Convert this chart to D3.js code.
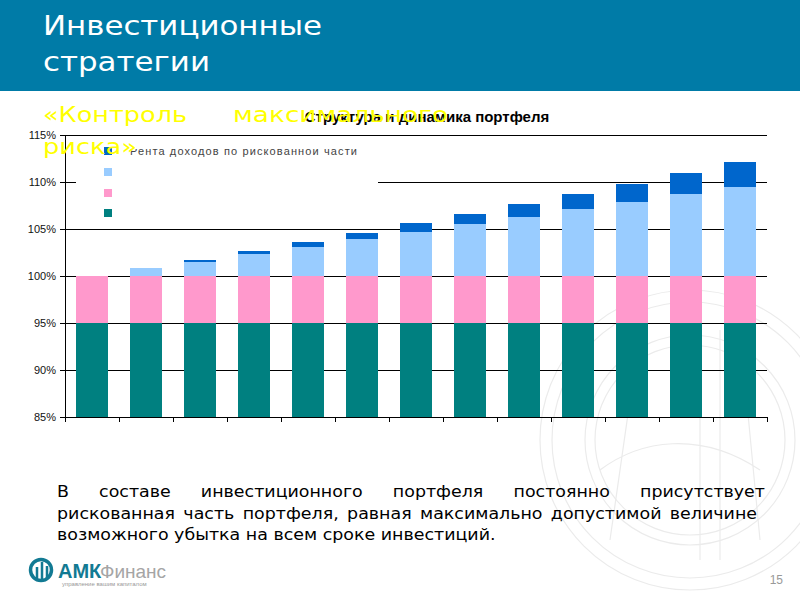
<!DOCTYPE html>
<html><head><meta charset="utf-8">
<script src="https://cdn.jsdelivr.net/npm/d3@7"></script>
<style>html,body{margin:0;padding:0;background:#fff;}svg{display:block;}</style>
</head><body>
<svg id="c" width="800" height="600"></svg>
<script>
// ---- data ----
const periods = [1,2,3,4,5,6,7,8,9,10,11,12,13];
const seriesNames = ["Безрисковая часть","Рискованная часть","Доход по рискованной части","Рента доходов по рискованной части"];
const riskFree = [95,95,95,95,95,95,95,95,95,95,95,95,95];
const riskPart = [5,5,5,5,5,5,5,5,5,5,5,5,5];
const riskIncome = [0,0.85,1.5,2.35,3.1,3.95,4.7,5.5,6.3,7.1,7.9,8.7,9.5];
const rentIncome = [0,0,0.2,0.3,0.5,0.65,0.95,1.1,1.4,1.6,1.9,2.25,2.65];
const yTicks = [85,90,95,100,105,110,115];
const legendLabels = ["Рента доходов по рискованной части","","",""];
const colors = ["#008080","#ff99cc","#99ccff","#0066cc"];
const titleLines = ["Инвестиционные","стратегии"];
const bodyLines = ["В составе инвестиционного портфеля постоянно присутствует",
  "рискованная часть портфеля, равная максимально допустимой величине",
  "возможного убытка на всем сроке инвестиций."];

const svg = d3.select("#c");
const defs = svg.append("defs");

// watermark
const wm = svg.append("g").attr("fill","none").attr("stroke","#ebebeb").attr("stroke-width",1.2);
[[690,440,150],[690,440,138],[690,440,105],[690,440,95]].forEach(c=>wm.append("circle").attr("cx",c[0]).attr("cy",c[1]).attr("r",c[2]));
wm.append("path").attr("d","M610,540 L640,330 M700,560 L700,330 M720,560 L720,330 M760,540 L740,330 M600,470 C640,440 700,430 760,470");

// header
svg.append("rect").attr("x",0).attr("y",0).attr("width",800).attr("height",91).attr("fill","#007ba7");
const tl = [279,167];
svg.append("g").selectAll("text").data(titleLines).join("text")
  .attr("x",43).attr("y",(d,i)=>35+i*36).attr("fill","#fff")
  .attr("font-family","DejaVu Sans").attr("font-size",26)
  .attr("textLength",(d,i)=>tl[i]).attr("lengthAdjust","spacingAndGlyphs").text(d=>d);

// chart
const x = d3.scaleBand().domain(periods).range([65,767]).paddingInner(0.41).paddingOuter(0.205);
const y = d3.scaleLinear().domain([85,115]).range([417,135]);
const table = periods.map((p,i)=>({p, a:riskFree[i], b:riskPart[i], c:riskIncome[i], d:rentIncome[i]}));
const stack = d3.stack().keys(["a","b","c","d"])(table);

defs.append("clipPath").attr("id","plot").append("rect")
  .attr("x",65).attr("y",135).attr("width",702).attr("height",282);
defs.append("clipPath").attr("id","lgclip").append("rect")
  .attr("x",120).attr("y",149).attr("width",300).attr("height",20);

// gridlines
svg.append("g").selectAll("line").data(yTicks.filter(t=>t>85)).join("line")
  .attr("x1",65).attr("x2",767).attr("y1",d=>y(d)).attr("y2",d=>y(d))
  .attr("stroke","#000").attr("stroke-width",1).attr("shape-rendering","crispEdges");

// legend background box
svg.append("rect").attr("x",76).attr("y",140).attr("width",302).attr("height",82).attr("fill","#fff");

// bars
svg.append("g").attr("clip-path","url(#plot)").selectAll("g").data(stack).join("g")
  .attr("fill",(d,i)=>colors[i])
  .selectAll("rect").data(d=>d).join("rect")
  .attr("x",d=>x(d.data.p)).attr("width",x.bandwidth())
  .attr("y",d=>y(Math.max(d[1],85))).attr("height",d=>Math.max(0,y(Math.max(d[0],85))-y(Math.max(d[1],85))))
  .attr("shape-rendering","crispEdges");

// y axis
const ya = svg.append("g").attr("transform","translate(65,0)")
  .call(d3.axisLeft(y).tickValues(yTicks).tickFormat(d=>d+"%").tickSize(5).tickPadding(4));
ya.select(".domain").attr("stroke","#000");
ya.selectAll("text").attr("font-family","Liberation Sans").attr("font-size",11).attr("fill","#111");
ya.selectAll("line").attr("stroke","#000");

// x axis with boundary ticks
const xa = svg.append("g");
xa.append("line").attr("x1",65).attr("x2",767).attr("y1",417).attr("y2",417).attr("stroke","#000").attr("shape-rendering","crispEdges");
xa.selectAll("line.t").data(d3.range(periods.length+1)).join("line").attr("class","t")
  .attr("x1",i=>65+i*x.step()).attr("x2",i=>65+i*x.step()).attr("y1",417).attr("y2",422)
  .attr("stroke","#000").attr("shape-rendering","crispEdges");

// legend
const lg = svg.append("g");
const legendY = [151,172,193,213];
const order = [3,2,1,0];
lg.selectAll("rect").data(order).join("rect")
  .attr("x",104).attr("y",(d,i)=>legendY[i]-4).attr("width",8).attr("height",8).attr("fill",d=>colors[d]);
lg.append("g").attr("clip-path","url(#lgclip)").selectAll("text").data(order).join("text")
  .attr("x",130).attr("y",(d,i)=>legendY[i]+4).attr("font-family","Liberation Sans").attr("font-size",11)
  .attr("textLength",(d,i)=>i===0?227:null)
  .attr("fill","#444").text((d,i)=>legendLabels[i]);
// chart title
svg.append("text").attr("x",427).attr("y",122).attr("text-anchor","middle")
  .attr("font-family","Liberation Sans").attr("font-weight","bold").attr("font-size",15)
  .attr("fill","#000").text("Структура и динамика портфеля");

// yellow subtitle
const yel = svg.append("g").attr("fill","#ffff00").attr("font-family","DejaVu Sans").attr("font-size",22);
yel.append("text").attr("x",43).attr("y",122).attr("textLength",144).attr("lengthAdjust","spacingAndGlyphs").text("«Контроль");
yel.append("text").attr("x",233).attr("y",122).attr("textLength",215).attr("lengthAdjust","spacingAndGlyphs").text("максимального");
yel.append("text").attr("x",43).attr("y",154).attr("textLength",94).attr("lengthAdjust","spacingAndGlyphs").text("риска»");

// body text, justified (horizontally widened font)
const sx = 1.09;
const body = svg.append("g").attr("font-family","DejaVu Sans").attr("font-size",16).attr("fill","#000");
const lineRight = [765,757,null];
bodyLines.forEach((ln,li)=>{
  const by = 497 + li*21.5;
  const g = body.append("g").attr("transform",`translate(57,${by}) scale(${sx},1)`);
  if(lineRight[li]===null){
    g.append("text").attr("x",0).attr("y",0).text(ln);
    return;
  }
  const words = ln.split(" ");
  const nodes = words.map(w=>g.append("text").attr("y",0).text(w));
  const widths = nodes.map(n=>n.node().getComputedTextLength());
  const total = d3.sum(widths);
  const gap = ((lineRight[li]-57)/sx-total)/(words.length-1);
  let cx = 0;
  nodes.forEach((n,i)=>{n.attr("x",cx); cx += widths[i]+gap;});
});

// logo
const logo = svg.append("g");
logo.append("circle").attr("cx",41).attr("cy",570).attr("r",10.5).attr("fill","none").attr("stroke","#127a93").attr("stroke-width",3.5);
logo.append("path").attr("d","M37,579 L37,567 M42,581 L42,562 M47,578 L47,566").attr("stroke","#127a93").attr("stroke-width",2.5);
logo.append("text").attr("x",58).attr("y",578).attr("font-family","Liberation Sans").attr("font-weight","bold")
  .attr("font-size",20).attr("fill","#127a93").text("АМК");
logo.append("text").attr("x",100).attr("y",578).attr("font-family","Liberation Sans")
  .attr("font-size",19).attr("fill","#a5a5a5").text("Финанс");
logo.append("text").attr("x",62).attr("y",586).attr("font-family","Liberation Sans")
  .attr("font-size",6).attr("fill","#999").text("управление вашим капиталом");

svg.append("text").attr("x",783).attr("y",584).attr("text-anchor","end").attr("font-family","Liberation Sans")
  .attr("font-size",12).attr("fill","#999").text("15");
</script>
</body></html>
